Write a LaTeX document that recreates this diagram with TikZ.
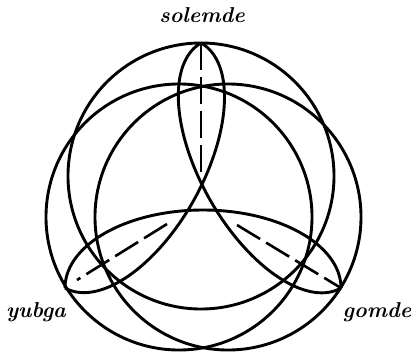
\documentclass[tikz,border=0pt]{standalone}
\usepackage{fontspec}
\begin{document}
\begin{tikzpicture}[x=1pt,y=-1pt,
  curve/.style={line width=2.9pt, line join=round},
  axisline/.style={line width=2.6pt, dash pattern=on 27pt off 7pt},
  lab/.style={font=\fontsize{21.5}{21.5}\selectfont\bfseries\itshape, inner sep=0pt}]
\useasboundingbox (0,0) rectangle (411,356);
% tips of the three lobes
\coordinate (P1) at (201,43);
\coordinate (P2) at (65,288);
\coordinate (P3) at (341,288);
% three large circles
\coordinate (CT) at (201,176);
\coordinate (CY) at (179,217);
\coordinate (CG) at (228,217);
\draw[curve] (CT) circle[radius=133];
\draw[curve] (CY) circle[radius=133];
\draw[curve] (CG) circle[radius=133];
% triquetra curves (half ellipses between tips)
\draw[curve] plot[domain=0:180,samples=120,smooth] ({203+138*cos(\x)}, {288-78*sin(\x)});
\draw[curve] plot[domain=0:180,samples=120,smooth] ({133+140.1*cos(\x)*0.4854+70*sin(\x)*0.8744}, {165.5-140.1*cos(\x)*0.8744+70*sin(\x)*0.4854});
\draw[curve] plot[domain=0:180,samples=120,smooth] ({271-141.1*cos(\x)*0.4961-70*sin(\x)*0.8682}, {165.5-141.1*cos(\x)*0.8682+70*sin(\x)*0.4961});
% dashed axes
\coordinate (A1) at (201,173);
\coordinate (A2) at (167,224);
\coordinate (B2) at (77,280);
\coordinate (A3) at (237,225);
\draw[axisline] (P1) -- (A1);
\draw[axisline] (A2) -- (B2);
\draw[axisline] (A3) -- (P3);
% labels
\node[lab, anchor=base] (solemde) at (202,22) {solemde};
\node[lab, anchor=base] (yubga) at (36,317) {yubga};
\node[lab, anchor=base] (gomde) at (377,317) {gomde};
\end{tikzpicture}
\end{document}
